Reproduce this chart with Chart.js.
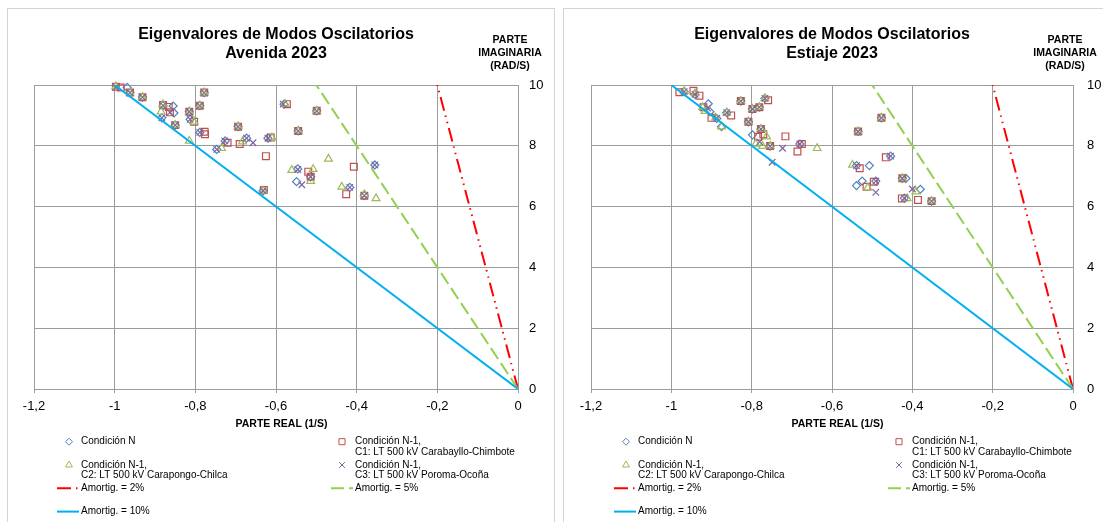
<!DOCTYPE html>
<html>
<head>
<meta charset="utf-8">
<script src="https://cdn.jsdelivr.net/npm/chart.js@4.4.1/dist/chart.umd.min.js"></script>
<style>
  html, body { margin: 0; padding: 0; background: #fff; overflow: hidden; }
  body { width: 1103px; height: 522px; position: relative; }
  .box { position: absolute; top: 8px; height: 600px; border: 1px solid #d4d4d4; }
  #box1 { left: 7px; width: 546px; }
  #box2 { left: 563px; width: 600px; }
  canvas { position: absolute; top: 0; }
  #avenida { left: 0; }
  #estiaje { left: 556px; }
</style>
</head>
<body>
<div class="box" id="box1"></div>
<div class="box" id="box2"></div>
<canvas id="avenida" width="556" height="522"></canvas>
<canvas id="estiaje" width="547" height="522"></canvas>
<script>
// eigenvalues [real part (1/s), imaginary part (rad/s)]
const avenidaN = [
  [-0.969, 9.92], [-0.962, 9.75], [-0.931, 9.6], [-0.778, 9.75], [-0.789, 9.32],
  [-0.88, 9.32], [-0.855, 9.31], [-0.883, 8.92], [-0.853, 9.08], [-0.815, 9.12],
  [-0.85, 8.68], [-0.813, 8.87], [-0.789, 8.44], [-0.747, 7.88], [-0.694, 8.63],
  [-0.673, 8.25], [-0.62, 8.25], [-0.58, 9.37], [-0.545, 8.49], [-0.632, 6.52],
  [-0.546, 7.24], [-0.549, 6.82], [-0.499, 9.15], [-0.514, 6.98], [-0.417, 6.63],
  [-0.355, 7.37], [-0.381, 6.36], [-0.726, 8.16]
];
const avenidaC1 = [
  [-0.997, 9.94], [-0.985, 9.92], [-0.962, 9.75], [-0.931, 9.6], [-0.778, 9.75],
  [-0.789, 9.32], [-0.88, 9.34], [-0.866, 9.28], [-0.863, 9.1], [-0.815, 9.12],
  [-0.85, 8.68], [-0.803, 8.79], [-0.777, 8.46], [-0.776, 8.38], [-0.72, 8.1],
  [-0.69, 8.06], [-0.694, 8.63], [-0.613, 8.27], [-0.625, 7.66], [-0.573, 9.37],
  [-0.545, 8.49], [-0.63, 6.55], [-0.52, 7.15], [-0.514, 6.98], [-0.499, 9.15],
  [-0.407, 7.31], [-0.426, 6.41], [-0.381, 6.36]
];
const avenidaC2 = [
  [-0.997, 9.95], [-0.962, 9.75], [-0.931, 9.6], [-0.778, 9.75], [-0.789, 9.32],
  [-0.88, 9.36], [-0.885, 9.12], [-0.815, 9.12], [-0.85, 8.68], [-0.803, 8.79],
  [-0.815, 8.16], [-0.735, 7.92], [-0.683, 8.14], [-0.694, 8.63], [-0.61, 8.27],
  [-0.545, 8.49], [-0.561, 7.2], [-0.508, 7.23], [-0.514, 6.84], [-0.47, 7.57],
  [-0.499, 9.15], [-0.437, 6.65], [-0.381, 6.4], [-0.352, 6.27], [-0.632, 6.52],
  [-0.578, 9.37]
];
const avenidaC3 = [
  [-0.997, 9.92], [-0.962, 9.75], [-0.931, 9.6], [-0.778, 9.75], [-0.789, 9.32],
  [-0.88, 9.32], [-0.863, 9.1], [-0.883, 8.92], [-0.815, 9.12], [-0.85, 8.68],
  [-0.813, 8.87], [-0.789, 8.44], [-0.727, 8.16], [-0.747, 7.88], [-0.657, 8.1],
  [-0.673, 8.25], [-0.62, 8.25], [-0.694, 8.63], [-0.582, 9.37], [-0.545, 8.49],
  [-0.546, 7.22], [-0.536, 6.72], [-0.514, 6.98], [-0.499, 9.15], [-0.417, 6.63],
  [-0.355, 7.37], [-0.381, 6.36], [-0.632, 6.52]
];

const estiajeN = [
  [-0.968, 9.78], [-0.941, 9.69], [-0.908, 9.38], [-0.904, 9.12], [-0.887, 8.9],
  [-0.875, 8.63], [-0.862, 9.09], [-0.827, 9.47], [-0.808, 8.79], [-0.798, 9.21],
  [-0.781, 9.27], [-0.767, 9.56], [-0.777, 8.55], [-0.798, 8.36], [-0.754, 7.99],
  [-0.68, 8.06], [-0.477, 8.92], [-0.535, 8.47], [-0.454, 7.66], [-0.539, 7.35],
  [-0.507, 7.35], [-0.539, 6.69], [-0.525, 6.84], [-0.491, 6.84], [-0.425, 6.93],
  [-0.416, 6.93], [-0.38, 6.57], [-0.42, 6.28], [-0.352, 6.18]
];
const estiajeC1 = [
  [-0.98, 9.76], [-0.945, 9.81], [-0.93, 9.65], [-0.92, 9.27], [-0.9, 8.92],
  [-0.851, 9.0], [-0.827, 9.47], [-0.808, 8.79], [-0.798, 9.21], [-0.781, 9.27],
  [-0.759, 9.5], [-0.777, 8.55], [-0.784, 8.3], [-0.771, 8.38], [-0.754, 7.99],
  [-0.716, 8.31], [-0.686, 7.81], [-0.675, 8.06], [-0.477, 8.92], [-0.535, 8.47],
  [-0.466, 7.62], [-0.531, 7.26], [-0.514, 6.65], [-0.496, 6.82], [-0.425, 6.93],
  [-0.426, 6.27], [-0.386, 6.22], [-0.352, 6.18]
];
const estiajeC2 = [
  [-0.968, 9.8], [-0.941, 9.72], [-0.922, 9.27], [-0.916, 9.14], [-0.89, 8.92],
  [-0.875, 8.63], [-0.862, 9.09], [-0.827, 9.47], [-0.808, 8.79], [-0.798, 9.21],
  [-0.781, 9.27], [-0.767, 9.56], [-0.777, 8.55], [-0.763, 8.3], [-0.79, 8.06],
  [-0.773, 7.99], [-0.754, 7.99], [-0.637, 7.92], [-0.477, 8.92], [-0.535, 8.47],
  [-0.549, 7.37], [-0.511, 6.62], [-0.425, 6.93], [-0.391, 6.49], [-0.413, 6.27],
  [-0.352, 6.18]
];
const estiajeC3 = [
  [-0.968, 9.78], [-0.941, 9.69], [-0.91, 9.24], [-0.887, 8.9], [-0.862, 9.09],
  [-0.827, 9.47], [-0.808, 8.79], [-0.798, 9.21], [-0.781, 9.27], [-0.767, 9.56],
  [-0.777, 8.55], [-0.78, 8.13], [-0.754, 7.99], [-0.723, 7.92], [-0.68, 8.06],
  [-0.749, 7.46], [-0.477, 8.92], [-0.535, 8.47], [-0.454, 7.66], [-0.539, 7.35],
  [-0.491, 6.84], [-0.491, 6.47], [-0.425, 6.93], [-0.4, 6.58], [-0.42, 6.28],
  [-0.352, 6.18]
];

// constant damping lines, from the origin up to Im = 10
const damp2X = [0, -0.2];
const damp2Y = [0, 10];
const damp5X = [0, -0.5];
const damp5Y = [0, 10];
const damp10X = [0, -1.0];
const damp10Y = [0, 10];

const xTicks = [-1.2, -1, -0.8, -0.6, -0.4, -0.2, 0];
const yTicks = [0, 2, 4, 6, 8, 10];

const seriesNames = [
  ['Condición N'],
  ['Condición N-1,', 'C1: LT 500 kV Carabayllo-Chimbote'],
  ['Condición N-1,', 'C2: LT 500 kV Carapongo-Chilca'],
  ['Condición N-1,', 'C3: LT 500 kV Poroma-Ocoña'],
  ['Amortig. = 2%'],
  ['Amortig. = 5%'],
  ['Amortig. = 10%']
];
const xTitle = 'PARTE REAL (1/S)';
const yTitle = ['PARTE', 'IMAGINARIA', '(RAD/S)'];
const mainTitle = 'Eigenvalores de Modos Oscilatorios';

const FONT = '"Liberation Sans", Arial, sans-serif';

function fmt(v) {
  return String(Math.round(v * 10) / 10).replace('.', ',');
}

function pts(list) {
  return list.map(p => ({x: p[0], y: p[1]}));
}

function markerSet(i, list, style, color, radius) {
  return {
    label: seriesNames[i].join(' '),
    names: seriesNames[i],
    data: pts(list),
    showLine: false,
    pointStyle: style,
    pointRadius: radius,
    pointHoverRadius: radius,
    pointBorderWidth: 1.2,
    borderColor: color,
    backgroundColor: 'rgba(0,0,0,0)',
    clip: 8,
    order: 10 - i
  };
}

function dampSet(i, xs, ys, color, dash) {
  return {
    label: seriesNames[i][0],
    names: seriesNames[i],
    data: xs.map((x, k) => ({x: x, y: ys[k]})),
    showLine: true,
    borderColor: color,
    borderWidth: 2,
    borderDash: dash,
    pointRadius: 0,
    fill: false,
    order: 10 - i
  };
}

// title, axis titles and the two-column legend
const decor = {
  id: 'decor',
  afterDraw(chart, args, opts) {
    const ctx = chart.ctx;
    const a = chart.chartArea;
    const cx = (a.left + a.right) / 2;
    ctx.save();
    ctx.fillStyle = '#000';
    ctx.textBaseline = 'middle';
    ctx.textAlign = 'center';

    ctx.font = 'bold 16px ' + FONT;
    ctx.fillText(mainTitle, cx, 35);
    ctx.fillText(opts.season, cx, 53.5);

    ctx.font = 'bold 10.5px ' + FONT;
    yTitle.forEach((t, i) => ctx.fillText(t, a.right - 8, 40 + i * 13));
    ctx.fillText(xTitle, cx + 5.5, 424.5);

    // legend
    const cols = [{marker: 35, line: 23, text: 47}, {marker: 308, line: 297, text: 321}];
    ctx.font = '10px ' + FONT;
    ctx.textAlign = 'left';
    chart.data.datasets.forEach((ds, i) => {
      const col = cols[i % 2];
      const y = a.bottom + 52.7 + Math.floor(i / 2) * 23.3;
      if (ds.showLine) {
        ctx.save();
        ctx.strokeStyle = ds.borderColor;
        ctx.lineWidth = ds.borderWidth;
        ctx.setLineDash(ds.borderDash || []);
        ctx.beginPath();
        ctx.moveTo(a.left + col.line, y);
        ctx.lineTo(a.left + col.line + 22, y);
        ctx.stroke();
        ctx.restore();
      } else {
        ctx.save();
        ctx.strokeStyle = ds.borderColor;
        ctx.fillStyle = 'rgba(0,0,0,0)';
        Chart.helpers.drawPoint(ctx, {
          pointStyle: ds.pointStyle, radius: ds.pointRadius - 0.5, borderWidth: 1, rotation: 0
        }, a.left + col.marker, y);
        ctx.restore();
      }
      ds.names.forEach((t, k) => ctx.fillText(t, a.left + col.text, y + k * 10.6));
    });
    ctx.restore();
  }
};

function makeChart(id, season, sets, pad, yPad) {
  const grid = '#9c9c9c';
  return new Chart(document.getElementById(id), {
    type: 'scatter',
    data: {
      datasets: [
        markerSet(0, sets[0], 'rectRot', '#4f81bd', 4),
        markerSet(1, sets[1], 'rect', '#c0504d', 4.8),
        markerSet(2, sets[2], 'triangle', '#9bbb59', 4.5),
        markerSet(3, sets[3], 'crossRot', '#8064a2', 4.6),
        dampSet(4, damp2X, damp2Y, '#ff0000', [14, 5, 1.5, 5, 1.5, 5]),
        dampSet(5, damp5X, damp5Y, '#92d050', [13, 5]),
        dampSet(6, damp10X, damp10Y, '#00b0f0', [])
      ]
    },
    options: {
      responsive: false,
      animation: false,
      layout: {padding: pad},
      plugins: {
        legend: {display: false},
        title: {display: false},
        tooltip: {enabled: false},
        decor: {season: season}
      },
      scales: {
        x: {
          type: 'linear',
          min: -1.2,
          max: 0,
          afterBuildTicks: s => { s.ticks = xTicks.map(v => ({value: v})); },
          afterFit: s => { s.height = 100; },
          grid: {color: grid, lineWidth: 1, drawTicks: true, tickLength: 4},
          border: {display: true, color: grid, width: 1},
          ticks: {
            color: '#000',
            padding: 6,
            maxRotation: 0,
            font: {family: FONT, size: 13},
            callback: v => fmt(v)
          }
        },
        y: {
          type: 'linear',
          position: 'right',
          min: 0,
          max: 10,
          afterBuildTicks: s => { s.ticks = yTicks.map(v => ({value: v})); },
          afterFit: s => { s.width = 30; },
          grid: {color: grid, lineWidth: 1, drawTicks: false},
          border: {display: true, color: grid, width: 1},
          ticks: {
            color: '#000',
            padding: yPad,
            font: {family: FONT, size: 13},
            callback: v => fmt(v)
          }
        }
      }
    },
    plugins: [decor]
  });
}

makeChart('avenida', 'Avenida 2023',
  [avenidaN, avenidaC1, avenidaC2, avenidaC3],
  {left: 34, top: 85, right: 8, bottom: 33}, 11);
makeChart('estiaje', 'Estiaje 2023',
  [estiajeN, estiajeC1, estiajeC2, estiajeC3],
  {left: 35, top: 85, right: 0, bottom: 33}, 14);
</script>
</body>
</html>
